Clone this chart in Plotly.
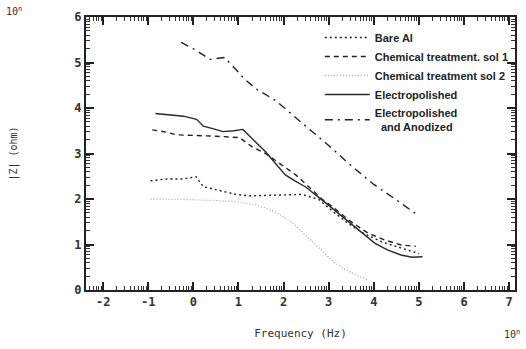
import math
import plotly.graph_objects as go

# ---- data (log10 frequency [Hz], log10 |Z| [ohm]) ----
bare_al_x = [-0.95, -0.6, -0.22, 0.06, 0.22, 0.45, 0.66, 0.95, 1.24, 1.7, 2.1, 2.41, 2.78, 3.1, 3.45, 3.8, 4.2, 4.6, 5.0]
bare_al_y = [2.40, 2.44, 2.44, 2.49, 2.27, 2.22, 2.16, 2.10, 2.07, 2.08, 2.10, 2.10, 1.99, 1.72, 1.45, 1.23, 1.05, 0.92, 0.80]

sol1_x = [-0.91, -0.6, -0.37, 0.0, 0.5, 1.02, 1.3, 1.6, 1.95, 2.27, 2.48, 2.85, 3.15, 3.44, 3.87, 4.24, 4.6, 4.93]
sol1_y = [3.52, 3.47, 3.41, 3.40, 3.38, 3.35, 3.15, 3.00, 2.75, 2.53, 2.34, 2.00, 1.78, 1.54, 1.25, 1.10, 0.99, 0.96]

sol2_x = [-0.95, -0.5, -0.18, 0.4, 0.95, 1.39, 1.7, 1.97, 2.25, 2.48, 2.8, 3.14, 3.5, 3.86]
sol2_y = [2.00, 2.00, 1.99, 1.97, 1.94, 1.87, 1.77, 1.63, 1.43, 1.21, 0.92, 0.59, 0.38, 0.22]

ep_x = [-0.84, -0.5, -0.22, 0.07, 0.22, 0.45, 0.66, 0.9, 1.1, 1.35, 1.6, 1.82, 2.04, 2.25, 2.48, 2.85, 3.29, 3.66, 4.02, 4.3, 4.6, 4.85, 5.08]
ep_y = [3.88, 3.85, 3.82, 3.75, 3.60, 3.54, 3.48, 3.50, 3.53, 3.28, 3.04, 2.78, 2.53, 2.40, 2.27, 1.98, 1.63, 1.32, 1.03, 0.88, 0.77, 0.72, 0.73]

an_x = [-0.27, 0.02, 0.37, 0.69, 0.95, 1.13, 1.39, 1.83, 2.41, 3.03, 3.5, 4.0, 4.5, 4.97]
an_y = [5.44, 5.29, 5.07, 5.11, 4.84, 4.64, 4.42, 4.16, 3.67, 3.15, 2.73, 2.32, 1.98, 1.65]

x_tickvals = [-2, -1, 0, 1, 2, 3, 4, 5, 6, 7]
x_ticktext = ["-2", "-1", "0", "1", "2", "3", "4", "5", "6", "7"]
y_tickvals = [0, 1, 2, 3, 4, 5, 6]
y_ticktext = ["0", "1", "2", "3", "4", "5", "6"]

series_names = [
    "Bare Al",
    "Chemical treatment. sol 1",
    "Chemical treatment sol 2",
    "Electropolished",
    "Electropolished<br>  and Anodized",
]

# log-style minor tick positions within each decade
def log_minor(lo, hi):
    out = []
    for d in range(lo, hi):
        for k in range(2, 10):
            out.append(round(d + math.log10(k), 4))
    return out

fig = go.Figure()
fig.add_trace(go.Scatter(x=bare_al_x, y=bare_al_y, mode="lines", name=series_names[0],
                         line=dict(color="#222222", width=1.4, dash="2px,3px")))
fig.add_trace(go.Scatter(x=sol1_x, y=sol1_y, mode="lines", name=series_names[1],
                         line=dict(color="#222222", width=1.4, dash="5px,4px")))
fig.add_trace(go.Scatter(x=sol2_x, y=sol2_y, mode="lines", name=series_names[2],
                         line=dict(color="#a8a8a8", width=1.3, dash="1px,2px")))
fig.add_trace(go.Scatter(x=ep_x, y=ep_y, mode="lines", name=series_names[3],
                         line=dict(color="#2a2a2a", width=1.4)))
fig.add_trace(go.Scatter(x=an_x, y=an_y, mode="lines", name=series_names[4],
                         line=dict(color="#222222", width=1.4, dash="8px,5px,2px,5px")))

tick_font = dict(family="DejaVu Sans Mono", size=12, color="#333333", weight="bold")
small_font = dict(family="DejaVu Sans Mono", size=10, color="#333333")

fig.update_layout(
    width=526, height=349,
    margin=dict(l=86, r=11, t=17, b=59),
    paper_bgcolor="white", plot_bgcolor="white",
    showlegend=True,
    legend=dict(
        x=0.545, y=0.978, xanchor="left", yanchor="top",
        bgcolor="rgba(0,0,0,0)", itemwidth=45,
        font=dict(family="Liberation Sans", size=11, color="#222222", weight="bold"),
        tracegroupgap=0,
    ),
    xaxis=dict(
        range=[-2.38, 7.13], showgrid=False, zeroline=False, automargin=False,
        showline=True, linecolor="#222222", linewidth=2, mirror="allticks",
        ticks="inside", ticklen=8, tickwidth=1.5, tickcolor="#222222",
        tickmode="array", tickvals=x_tickvals, ticktext=x_ticktext,
        tickfont=tick_font,
        minor=dict(tickmode="array", tickvals=log_minor(-3, 8), ticks="inside",
                   ticklen=4, tickwidth=1, tickcolor="#333333", showgrid=False),
        title=dict(text="Frequency (Hz)", standoff=21,
                   font=dict(family="DejaVu Sans Mono", size=11, color="#333333")),
    ),
    yaxis=dict(
        range=[0, 6], showgrid=False, zeroline=False, automargin=False,
        showline=True, linecolor="#222222", linewidth=2, mirror="ticks",
        ticks="inside", ticklen=8, tickwidth=1.5, tickcolor="#222222",
        tickmode="array", tickvals=y_tickvals, ticktext=y_ticktext,
        tickfont=tick_font,
        minor=dict(tickmode="array", tickvals=log_minor(0, 6), ticks="inside",
                   ticklen=4, tickwidth=1, tickcolor="#333333", showgrid=False),
        title=dict(text="|Z| (ohm)", standoff=55, font=small_font),
    ),
)

# "10^n" exponent markers placed in paper coordinates derived from the pixel layout
pw, ph = 526 - 86 - 11, 349 - 17 - 59
fig.add_annotation(text="10<sup>n</sup>", x=(4 - 86) / pw, y=(349 - 59 - 11) / ph,
                   xref="paper", yref="paper", xanchor="left", yanchor="middle",
                   showarrow=False, font=small_font)
fig.add_annotation(text="10<sup>n</sup>", x=(522 - 86) / pw, y=(349 - 59 - 334) / ph,
                   xref="paper", yref="paper", xanchor="right", yanchor="middle",
                   showarrow=False, font=small_font)

fig.write_html("out.html", config={"displayModeBar": False},
               post_script="document.body.style.margin='0px';")
